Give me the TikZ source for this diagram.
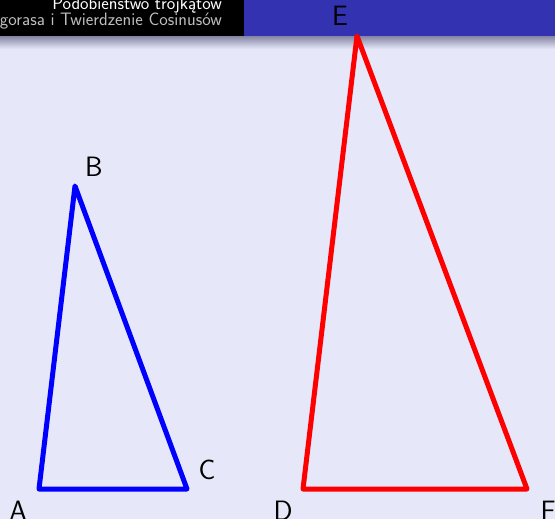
\documentclass[tikz,border=0pt]{standalone}
\usepackage{fontspec}
\usetikzlibrary{calc}
\definecolor{bgc}{RGB}{231,231,250}
\definecolor{hblue}{RGB}{51,51,178}
\definecolor{hgray}{RGB}{190,190,190}
\definecolor{shadowc}{RGB}{140,140,170}
\begin{document}
\begin{tikzpicture}[x=1pt,y=-1pt,
  lbl/.style={font=\fontsize{28}{30}\selectfont\sffamily, text=black, inner sep=0pt},
  hdr/.style={font=\fontsize{18}{20}\selectfont\sffamily, inner sep=0pt, anchor=base east},
  tri/.style={line width=5pt, line join=round, line cap=round}]
\useasboundingbox (0,0) rectangle (555,519);
\fill[bgc] (0,0) rectangle (555,519);
% header
\fill[black] (0,0) rectangle (244,37);
\fill[hblue] (244,0) rectangle (555,37);
\shade[top color=shadowc, bottom color=bgc] (0,37) rectangle (555,49);
\node[hdr, text=white] (h1) at (222,9.5) {Podobieństwo trójkątów};
\node[hdr, text=hgray] (h2) at (222,26) {Pitagorasa i Twierdzenie Cosinusów};
% vertices
\coordinate (A) at (39,489);
\coordinate (B) at (75,186);
\coordinate (C) at (187,489);
\coordinate (D) at (303,489);
\coordinate (E) at (357,36);
\coordinate (F) at (527,489);
\draw[tri, blue] (A) -- (B) -- (C) -- cycle;
\draw[tri, red] (D) -- (E) -- (F) -- cycle;
% labels
\node[lbl] (la) at (18,511) {A};
\node[lbl] (lb) at (94,167) {B};
\node[lbl] (lc) at (207,470) {C};
\node[lbl] (ld) at (283,511) {D};
\node[lbl] (le) at (340,16) {E};
\node[lbl] (lf) at (548,511) {F};
\end{tikzpicture}
\end{document}
